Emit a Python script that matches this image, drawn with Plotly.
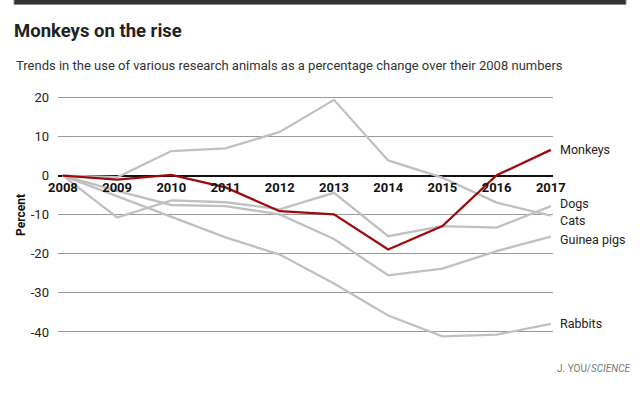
import plotly.graph_objects as go

years = [2008, 2009, 2010, 2011, 2012, 2013, 2014, 2015, 2016, 2017]
monkeys = [0, -1.0, 0.2, -3.0, -9.1, -9.9, -18.9, -12.9, 0.1, 6.6]
dogs = [0, -10.7, -6.3, -6.8, -8.6, -4.4, -15.5, -12.9, -13.3, -7.8]
cats = [0, -0.4, 6.3, 7.0, 11.2, 19.4, 3.9, -0.5, -6.9, -10.2]
guinea_pigs = [0, -3.9, -7.5, -7.8, -9.9, -16.2, -25.5, -23.8, -19.3, -15.6]
rabbits = [0, -5.2, -10.4, -15.8, -20.2, -27.6, -35.8, -41.1, -40.7, -37.9]

series_names = ["Dogs", "Cats", "Guinea pigs", "Rabbits", "Monkeys"]
series_values = [dogs, cats, guinea_pigs, rabbits, monkeys]
y_tick_vals = [20, 10, 0, -10, -20, -30, -40]
y_tick_text = ["20", "10", "0", "-10", "-20", "-30", "-40"]
x_tick_text = [str(y) for y in years]

GRAY = "#c0c0c0"
RED = "#9e0b0f"
label_shift = {"Monkeys": 0, "Dogs": 3, "Cats": -5, "Guinea pigs": -3, "Rabbits": 0}

W, H = 640, 399
L, R, T, B = 58, 87, 90, 59
PW, PH = W - L - R, H - T - B
YMIN, YMAX = -42.05, 21.92
XMIN, XMAX = 2007.91, 2017.04


def px(x):
    return (x - L) / PW


def py(y):
    return (H - B - y) / PH


fig = go.Figure()
for name, vals in zip(series_names, series_values):
    fig.add_trace(go.Scatter(
        x=years, y=vals, mode="lines", name=name,
        line=dict(color=RED if name == "Monkeys" else GRAY, width=2.3),
        hoverinfo="skip", showlegend=False,
    ))
    fig.add_annotation(
        x=years[-1], y=vals[-1], xref="x", yref="y", text=name,
        showarrow=False, xanchor="left", yanchor="middle", xshift=7,
        yshift=label_shift[name],
        font=dict(family="Roboto", size=12.5, color="#222"),
    )

fig.update_layout(
    width=W, height=H,
    margin=dict(l=L, r=R, t=T, b=B),
    paper_bgcolor="white", plot_bgcolor="white",
    title=dict(text="<b>Monkeys on the rise</b>", xref="container", yref="container",
               x=14 / W, y=1 - 31 / H, xanchor="left", yanchor="middle",
               font=dict(family="Roboto", size=18.5, color="#222")),
    xaxis=dict(range=[XMIN, XMAX], tickvals=years, ticktext=x_tick_text,
               showgrid=False, showline=False, zeroline=False,
               anchor="free", position=(0 - YMIN) / (YMAX - YMIN),
               tickfont=dict(family="Roboto", size=13, color="#111", weight="bold"),
               ticks="", ticklabelstandoff=2, fixedrange=True),
    yaxis=dict(range=[YMIN, YMAX], tickvals=y_tick_vals, ticktext=y_tick_text,
               showgrid=True, gridcolor="#9a9a9a", gridwidth=1,
               zeroline=True, zerolinecolor="#111", zerolinewidth=1.6,
               showline=False, ticks="", ticklabelstandoff=8,
               tickfont=dict(family="Roboto", size=13, color="#222"),
               title=dict(text="<b>Percent</b>", standoff=2,
                          font=dict(family="Roboto", size=12, color="#111")),
               fixedrange=True),
)

fig.add_annotation(
    xref="paper", yref="paper", x=px(14), y=py(66),
    text="Trends in the use of various research animals as a percentage change over their 2008 numbers",
    showarrow=False, xanchor="left", yanchor="middle",
    font=dict(family="Roboto", size=13, color="#333"),
)
fig.add_annotation(
    xref="paper", yref="paper", x=px(632), y=py(368),
    text="J. YOU/<i>SCIENCE</i>",
    showarrow=False, xanchor="right", yanchor="middle",
    font=dict(family="Roboto", size=10, color="#777"),
)
fig.add_shape(
    type="rect", xref="paper", yref="paper",
    x0=px(14), x1=px(626), y0=py(4.5), y1=py(-2),
    fillcolor="#333333", line=dict(color="#888888", width=1), layer="above",
)

fig.write_html(
    "out.html",
    config={"displayModeBar": False},
    post_script="document.body.style.margin='0';document.body.style.overflow='hidden';",
)
